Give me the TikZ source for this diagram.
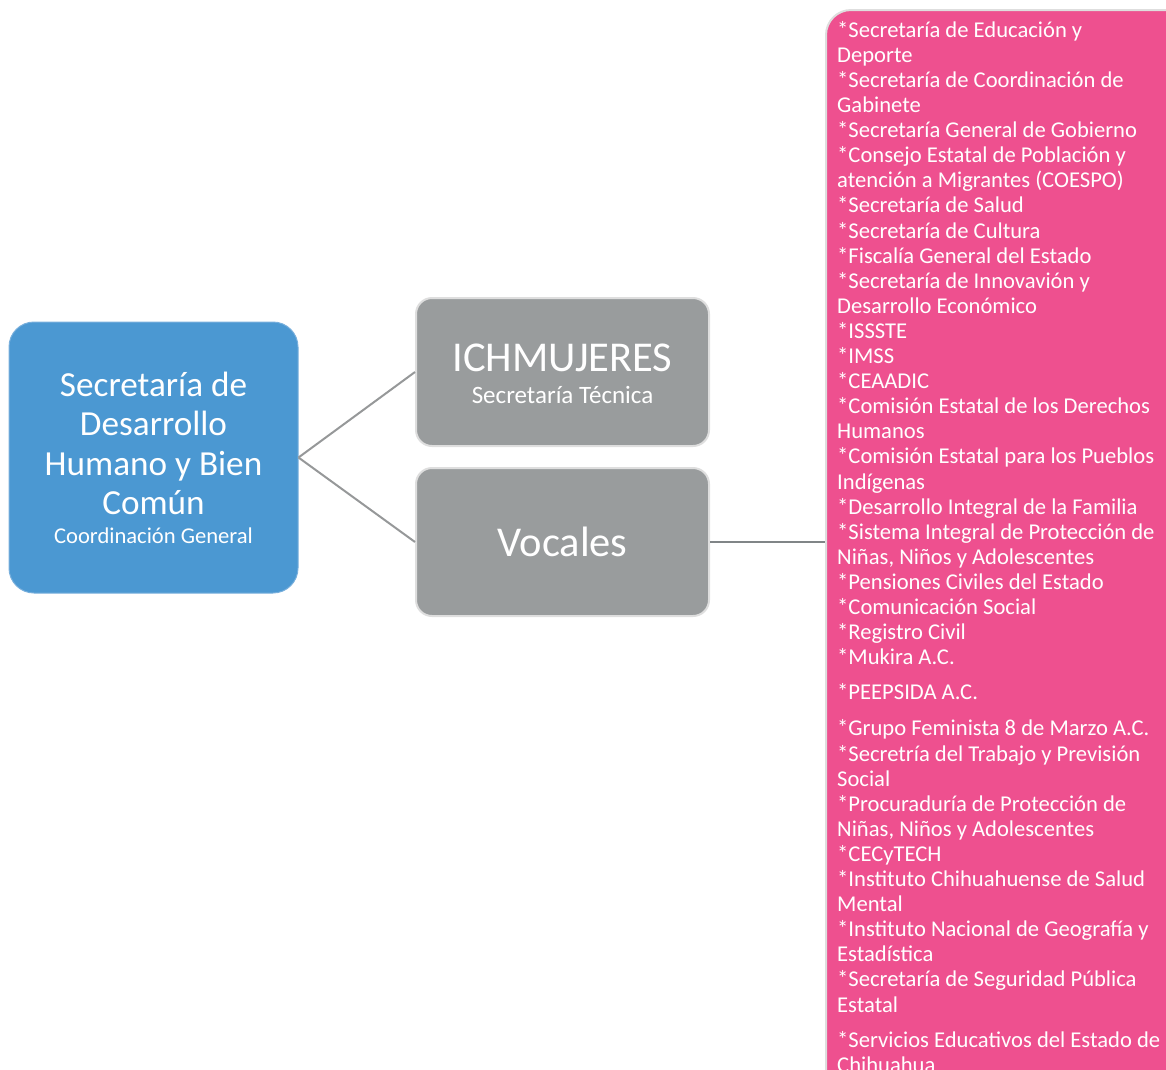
\documentclass[tikz,border=0pt]{standalone}
\usepackage{fontspec}
\setmainfont{Carlito}
\definecolor{bluefill}{RGB}{75,152,210}
\definecolor{bluedraw}{RGB}{120,175,220}
\definecolor{grayfill}{RGB}{153,156,157}
\definecolor{boxborder}{RGB}{222,222,222}
\definecolor{pinkfill}{RGB}{238,80,143}
\definecolor{linegray}{RGB}{150,152,153}
\definecolor{linedark}{RGB}{128,133,135}
\newcommand{\bigtxt}{\fontsize{35.2pt}{39.5pt}\selectfont}
\newcommand{\hugetxt}{\fontsize{42.5pt}{44pt}\selectfont}
\newcommand{\smalltxt}{\fontsize{22.6pt}{26pt}\selectfont}
\newcommand{\midtxt}{\fontsize{25pt}{28pt}\selectfont}
\tikzset{
  bluebox/.style={fill=bluefill, draw=bluedraw, line width=1pt, rounded corners=25pt,
    minimum width=289pt, minimum height=271pt, text=white, align=center, inner sep=0pt},
  graybox/.style={fill=grayfill, draw=boxborder, line width=2pt, rounded corners=16pt,
    minimum width=293pt, minimum height=148pt, text=white, align=center, inner sep=0pt},
  graytext/.style={text=white, align=center, inner sep=0pt},
  pinkbox/.style={fill=pinkfill, draw=boxborder, line width=2pt, rounded corners=25pt,
    minimum width=364pt, minimum height=1090pt, inner sep=0pt},
  pinktext/.style={text=white, align=left, inner sep=0pt, anchor=north west,
    font=\fontsize{22.6pt}{25.1pt}\selectfont},
  conn/.style={draw=linegray, line width=2pt},
  conndark/.style={draw=linedark, line width=2pt}
}
\begin{document}
\begin{tikzpicture}[x=1pt,y=-1pt]
\useasboundingbox (0,0) rectangle (1166,1069);
\clip (0,0) rectangle (1166,1069);
\node[bluebox, font=\bigtxt] (sec) at (153.5,457.5)
  {Secretaría de\\Desarrollo\\Humano y Bien\\Común\\[-11pt]\smalltxt Coordinación General};
\node[graybox] (ich) at (562.5,372) {};
\node[graytext, font=\hugetxt] (ichtxt) at ([yshift=-2pt]ich.center)
  {ICHMUJERES\\[-12pt]\midtxt Secretaría Técnica};
\node[graybox, font=\hugetxt] (voc) at (562.5,542) {Vocales};
\node[pinkbox] (pink) at (1008,555) {};
\node[pinktext] (list) at (837,21) {*Secretaría de Educación y\\
Deporte\\
*Secretaría de Coordinación de\\
Gabinete\\
*Secretaría General de Gobierno\\
*Consejo Estatal de Población y\\
atención a Migrantes (COESPO)\\
*Secretaría de Salud\\
*Secretaría de Cultura\\
*Fiscalía General del Estado\\
*Secretaría de Innovavión y\\
Desarrollo Económico\\
*ISSSTE\\
*IMSS\\
*CEAADIC\\
*Comisión Estatal de los Derechos\\
Humanos\\
*Comisión Estatal para los Pueblos\\
Indígenas\\
*Desarrollo Integral de la Familia\\
*Sistema Integral de Protección de\\
Niñas, Niños y Adolescentes\\
*Pensiones Civiles del Estado\\
*Comunicación Social\\
*Registro Civil\\
*Mukira A.C.\\[10pt]
*PEEPSIDA A.C.\\[11pt]
*Grupo Feminista 8 de Marzo A.C.\\
*Secretría del Trabajo y Previsión\\
Social\\
*Procuraduría de Protección de\\
Niñas, Niños y Adolescentes\\
*CECyTECH\\
*Instituto Chihuahuense de Salud\\
Mental\\
*Instituto Nacional de Geografía y\\
Estadística\\
*Secretaría de Seguridad Pública\\
Estatal\\[10pt]
*Servicios Educativos del Estado de\\
Chihuahua};
\draw[conn] (sec.east) -- (ich.west);
\draw[conn] (sec.east) -- (voc.west);
\draw[conndark] (voc.east) -- (voc.east -| pink.west);
\end{tikzpicture}
\end{document}
